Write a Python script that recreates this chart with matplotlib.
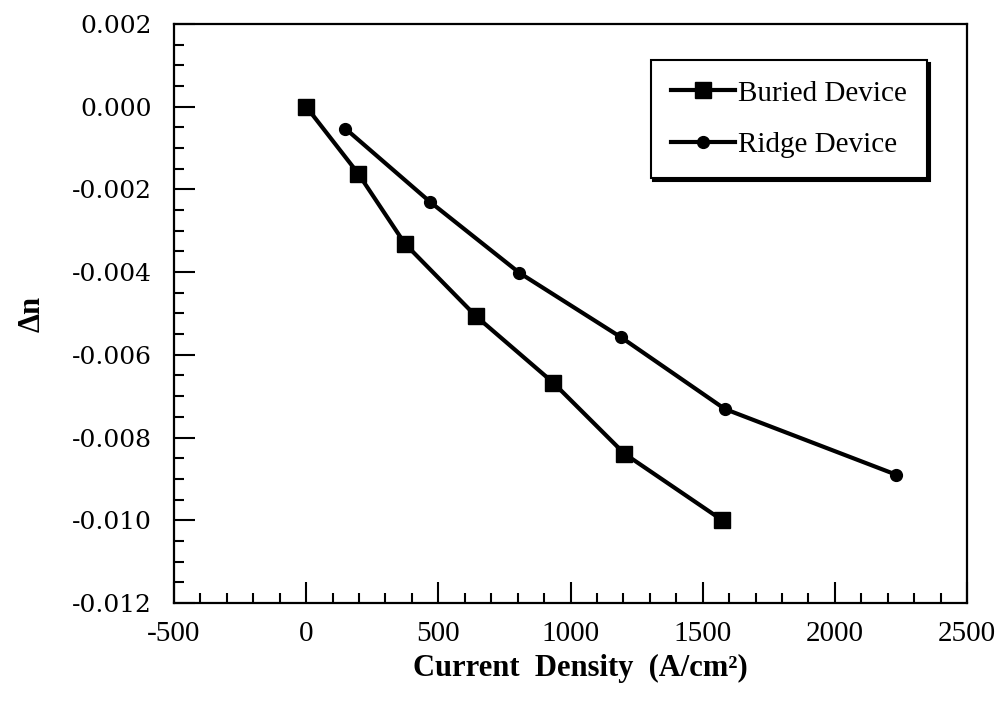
import matplotlib
matplotlib.use('Agg')
import matplotlib.pyplot as plt
from matplotlib.ticker import MultipleLocator, FormatStrFormatter

plt.rcParams['font.family'] = ['Liberation Serif', 'DejaVu Serif']
plt.rcParams['axes.unicode_minus'] = False

# Data
buried_j = [0, 197, 373, 643, 934, 1204, 1572]
buried_dn = [0.0, -0.00162, -0.00331, -0.00507, -0.00667, -0.00839, -0.00999]
ridge_j = [148, 470, 807, 1192, 1584, 2233]
ridge_dn = [-0.00053, -0.00231, -0.00402, -0.00558, -0.00731, -0.00890]

fig = plt.figure(figsize=(10, 7.02), dpi=100)
ax = fig.add_axes([0.174, 0.141, 0.793, 0.825])

ax.plot(buried_j, buried_dn, color='k', lw=3, marker='s', markersize=11, label='Buried Device')
ax.plot(ridge_j, ridge_dn, color='k', lw=3, marker='o', markersize=8.5, label='Ridge Device')

ax.set_xlim(-500, 2500)
ax.set_ylim(-0.012, 0.002)
ax.xaxis.set_major_locator(MultipleLocator(500))
ax.xaxis.set_minor_locator(MultipleLocator(100))
ax.yaxis.set_major_locator(MultipleLocator(0.002))
ax.yaxis.set_minor_locator(MultipleLocator(0.0005))
ax.yaxis.set_major_formatter(FormatStrFormatter('%.3f'))

ax.tick_params(which='major', direction='in', length=15, width=1.5)
ax.tick_params(which='minor', direction='in', length=7, width=1.5)
ax.tick_params(axis='x', labelsize=21, pad=13)
ax.tick_params(axis='y', labelsize=18, pad=16)
for lbl in ax.get_yticklabels():
    lbl.set_family('DejaVu Serif')
ax.tick_params(top=False, right=False)
for s in ax.spines.values():
    s.set_linewidth(1.6)

ax.set_xlabel('Current  Density  (A/cm\u00b2)', fontsize=22, fontweight='bold')
ax.xaxis.set_label_coords(0.513, -0.088)
ax.set_ylabel('\u0394n', fontsize=22, fontweight='bold')
ax.yaxis.set_label_coords(-0.16, 0.5)

leg = ax.legend(loc='upper right', bbox_to_anchor=(0.95, 0.938), borderaxespad=0,
                fontsize=21, handlelength=2.2, labelspacing=0.85, handletextpad=0.1,
                borderpad=0.7, fancybox=False, shadow={'color': 'k', 'alpha': 1},
                edgecolor='k', framealpha=1)
leg.get_frame().set_linewidth(1.5)

fig.savefig('out.png', dpi=100)
